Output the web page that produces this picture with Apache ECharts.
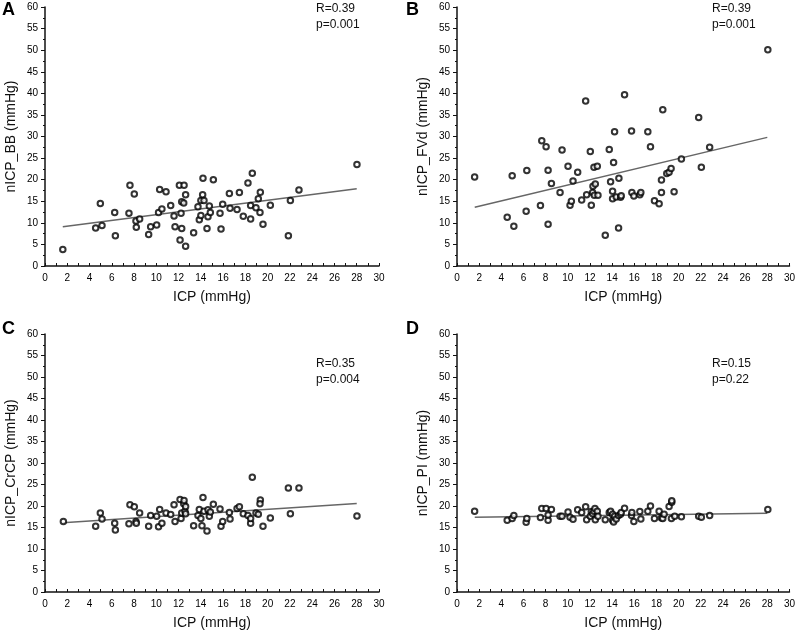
<!DOCTYPE html>
<html>
<head>
<meta charset="utf-8">
<script src="https://cdn.jsdelivr.net/npm/echarts@6/dist/echarts.min.js"></script>
<style>
  html, body { margin: 0; padding: 0; background: #fff; }
  #chart { width: 798px; height: 633px; }
</style>
</head>
<body>
<div id="chart"></div>
<script>
// panel letters, axis names and stats text
var panelLetters = ["A", "B", "C", "D"];
var yNames = ["nICP_BB (mmHg)", "nICP_FVd (mmHg)", "nICP_CrCP (mmHg)", "nICP_PI (mmHg)"];
var rLabels = ["R=0.39", "R=0.39", "R=0.35", "R=0.15"];
var pLabels = ["p=0.001", "p=0.001", "p=0.004", "p=0.22"];

// [ICP, nICP] pairs
var nicpBB = [
  [1.6, 3.8], [4.55, 8.8], [4.97, 14.5], [5.12, 9.4], [6.26, 12.4], [6.32, 7.0],
  [7.54, 12.2], [7.63, 18.7], [8.02, 16.7], [8.17, 10.4], [8.2, 9.0], [8.5, 10.9],
  [9.31, 7.3], [9.49, 9.1], [10.03, 9.5], [10.2, 12.4], [10.3, 17.7], [10.5, 13.2],
  [10.87, 17.2], [11.29, 14.0], [11.59, 11.6], [11.68, 9.1], [12.07, 18.7], [12.13, 6.0],
  [12.22, 12.2], [12.28, 8.7], [12.28, 14.9], [12.49, 18.7], [12.46, 14.6], [12.63, 16.5],
  [12.63, 4.6], [13.35, 7.7], [13.74, 13.7], [13.86, 10.7], [14.0, 11.7], [14.0, 15.2],
  [14.19, 20.3], [14.16, 16.5], [14.28, 15.2], [14.55, 8.7], [14.64, 11.4], [14.76, 13.9],
  [14.85, 12.4], [15.12, 20.0], [15.72, 12.2], [15.81, 8.6], [15.96, 14.3], [16.56, 16.8],
  [16.62, 13.4], [17.25, 13.1], [17.46, 17.0], [17.81, 11.5], [18.23, 19.2], [18.47, 14.0],
  [18.47, 10.9], [18.62, 21.5], [18.95, 13.5], [19.16, 15.6], [19.34, 17.1], [19.31, 12.4],
  [19.58, 9.7], [20.24, 14.1], [21.86, 7.0], [22.04, 15.2], [22.81, 17.6], [28.02, 23.5]
];
var nicpFVd = [
  [1.59, 20.6], [4.53, 11.3], [4.98, 20.9], [5.13, 9.2], [6.24, 12.7], [6.3, 22.1],
  [7.53, 14.0], [7.65, 29.0], [8.04, 27.6], [8.22, 22.2], [8.22, 9.7], [8.52, 19.1],
  [9.3, 17.0], [9.48, 26.9], [10.02, 23.1], [10.2, 14.1], [10.32, 15.0], [10.47, 19.7],
  [10.89, 21.7], [11.25, 15.3], [11.61, 38.2], [11.7, 16.5], [12.03, 26.5], [12.12, 14.1],
  [12.24, 17.0], [12.27, 18.5], [12.36, 22.9], [12.39, 16.4], [12.48, 19.0], [12.66, 23.1],
  [12.72, 16.4], [13.38, 7.1], [13.74, 27.0], [13.86, 19.5], [14.04, 17.3], [14.04, 15.6],
  [14.13, 24.0], [14.22, 31.1], [14.37, 16.0], [14.58, 8.8], [14.61, 20.3], [14.76, 15.9],
  [14.82, 16.3], [15.12, 39.7], [15.75, 31.3], [15.78, 17.0], [15.96, 16.2], [16.5, 16.5],
  [16.59, 17.0], [17.22, 31.1], [17.46, 27.6], [17.82, 15.1], [18.24, 14.4], [18.45, 19.9],
  [18.45, 17.0], [18.57, 36.2], [18.93, 21.4], [19.14, 21.7], [19.32, 22.6], [19.59, 17.2],
  [20.25, 24.8], [21.81, 34.4], [22.05, 22.9], [22.8, 27.5], [28.05, 50.1]
];
var nicpCrCP = [
  [1.65, 16.4], [4.55, 15.3], [4.97, 18.4], [5.12, 17.0], [6.26, 16.0], [6.32, 14.4],
  [7.54, 15.9], [7.63, 20.3], [8.02, 19.8], [8.17, 16.4], [8.2, 16.0], [8.5, 18.4],
  [9.31, 15.3], [9.49, 17.8], [10.03, 17.6], [10.2, 15.2], [10.3, 19.2], [10.5, 16.0],
  [10.87, 18.4], [11.29, 18.0], [11.59, 20.3], [11.68, 16.4], [12.13, 21.5], [12.22, 17.1],
  [12.28, 18.4], [12.46, 20.5], [12.49, 21.3], [12.57, 18.8], [12.63, 19.9], [12.63, 18.2],
  [13.35, 15.4], [13.74, 17.8], [13.86, 19.2], [14.0, 17.1], [14.1, 15.4], [14.19, 22.0],
  [14.28, 18.8], [14.55, 14.2], [14.64, 19.1], [14.76, 17.6], [14.85, 18.6], [15.12, 20.4],
  [15.72, 19.3], [15.81, 15.3], [15.96, 16.4], [16.56, 18.5], [16.62, 17.0], [17.25, 19.4],
  [17.46, 19.8], [17.81, 18.2], [18.23, 17.8], [18.47, 16.0], [18.47, 17.1], [18.62, 26.7],
  [18.95, 18.4], [19.16, 18.1], [19.34, 21.4], [19.31, 20.5], [19.58, 15.3], [20.24, 17.2],
  [21.86, 24.2], [22.04, 18.2], [22.81, 24.2], [28.02, 17.7]
];
var nicpPI = [
  [1.59, 18.8], [4.53, 16.7], [4.98, 17.1], [5.13, 17.8], [6.24, 16.2], [6.3, 17.1],
  [7.53, 17.3], [7.65, 19.4], [8.04, 19.4], [8.22, 16.7], [8.22, 17.9], [8.52, 19.2],
  [9.3, 17.6], [9.48, 17.6], [10.02, 18.6], [10.2, 17.4], [10.47, 16.9], [10.89, 19.1],
  [11.25, 18.5], [11.61, 19.8], [11.7, 16.8], [12.03, 17.6], [12.12, 18.7], [12.24, 18.2],
  [12.36, 18.8], [12.45, 19.4], [12.48, 16.8], [12.66, 18.8], [12.72, 17.6], [13.38, 16.8],
  [13.74, 18.5], [13.86, 18.8], [14.04, 16.7], [14.04, 18.1], [14.13, 16.3], [14.22, 17.6],
  [14.37, 17.0], [14.58, 17.8], [14.76, 18.1], [14.82, 18.5], [15.12, 19.5], [15.75, 17.8],
  [15.78, 18.5], [15.96, 16.4], [16.59, 17.0], [16.5, 18.7], [17.22, 18.8], [17.46, 20.0],
  [17.82, 17.1], [18.24, 18.8], [18.45, 17.2], [18.57, 17.1], [18.69, 18.1], [19.14, 19.9],
  [19.38, 20.9], [19.38, 21.2], [19.35, 17.1], [19.65, 17.6], [20.25, 17.5], [21.81, 17.6],
  [22.05, 17.4], [22.8, 17.8], [28.05, 19.2]
];

// regression line end points
var fitBB = [[1.6, 9.1], [28, 17.9]];
var fitFVd = [[1.6, 13.6], [28, 29.8]];
var fitCrCP = [[1.6, 16.1], [28, 20.6]];
var fitPI = [[1.6, 17.4], [28, 18.3]];

var pointSets = [nicpBB, nicpFVd, nicpCrCP, nicpPI];
var fitSets = [fitBB, fitFVd, fitCrCP, fitPI];

var font = "Liberation Sans, Arial, sans-serif";
var gridPos = [
  { left: 45, top: 7, width: 334, height: 259 },
  { left: 457, top: 7, width: 334, height: 259 },
  { left: 45, top: 334, width: 334, height: 258 },
  { left: 457, top: 334, width: 334, height: 258 }
];
var letterPos = [[2, 1], [406, 1], [2, 320], [406, 320]];
var statPos = [[316, 1], [712, 1], [316, 356], [712, 356]];

var grids = [], xAxes = [], yAxes = [], seriesList = [], graphics = [];

for (var i = 0; i < 4; i++) {
  grids.push(gridPos[i]);
  xAxes.push({
    gridIndex: i,
    type: "value",
    min: 0,
    max: 30,
    interval: 2,
    name: "ICP (mmHg)",
    nameLocation: "middle",
    nameGap: 24,
    nameTextStyle: { fontFamily: font, fontSize: 14, color: "#111" },
    axisLine: { lineStyle: { color: "#111", width: 1.5 } },
    axisTick: { inside: true, length: 3, lineStyle: { color: "#111" } },
    minorTick: { show: true, splitNumber: 2, length: 3, lineStyle: { color: "#111" } },
    axisLabel: { fontFamily: font, fontSize: 10, color: "#000", margin: 7 },
    splitLine: { show: false },
  });
  yAxes.push({
    gridIndex: i,
    type: "value",
    min: 0,
    max: 60,
    interval: 5,
    name: yNames[i],
    nameLocation: "middle",
    nameGap: 27,
    nameTextStyle: { fontFamily: font, fontSize: 14, color: "#111" },
    axisLine: { show: true, lineStyle: { color: "#111", width: 1.5 } },
    axisTick: { show: true, length: 4, lineStyle: { color: "#111" } },
    minorTick: { show: true, splitNumber: 2, length: 2, lineStyle: { color: "#111" } },
    axisLabel: { fontFamily: font, fontSize: 10, color: "#000", margin: 7 },
    splitLine: { show: false },
  });
  seriesList.push({
    type: "line",
    xAxisIndex: i,
    yAxisIndex: i,
    data: fitSets[i],
    showSymbol: false,
    lineStyle: { color: "#666", width: 1.5 },
    z: 1,
  });
  seriesList.push({
    type: "scatter",
    xAxisIndex: i,
    yAxisIndex: i,
    data: pointSets[i],
    symbol: "emptyCircle",
    symbolSize: 5.5,
    itemStyle: { color: "#000", borderColor: "#000", borderWidth: 1.6 },
    z: 2,
  });
  graphics.push({
    type: "text",
    left: letterPos[i][0],
    top: letterPos[i][1],
    style: { text: panelLetters[i], fontFamily: font, fontSize: 18, fontWeight: "bold", fill: "#000" },
  });
  graphics.push({
    type: "text",
    left: statPos[i][0],
    top: statPos[i][1],
    style: {
      text: rLabels[i] + "\n" + pLabels[i],
      fontFamily: font,
      fontSize: 12,
      lineHeight: 16,
      fill: "#111",
    },
  });
}

var myChart = echarts.init(document.getElementById("chart"));
myChart.setOption({
  animation: false,
  grid: grids,
  xAxis: xAxes,
  yAxis: yAxes,
  series: seriesList,
  graphic: graphics,
});
</script>
</body>
</html>
